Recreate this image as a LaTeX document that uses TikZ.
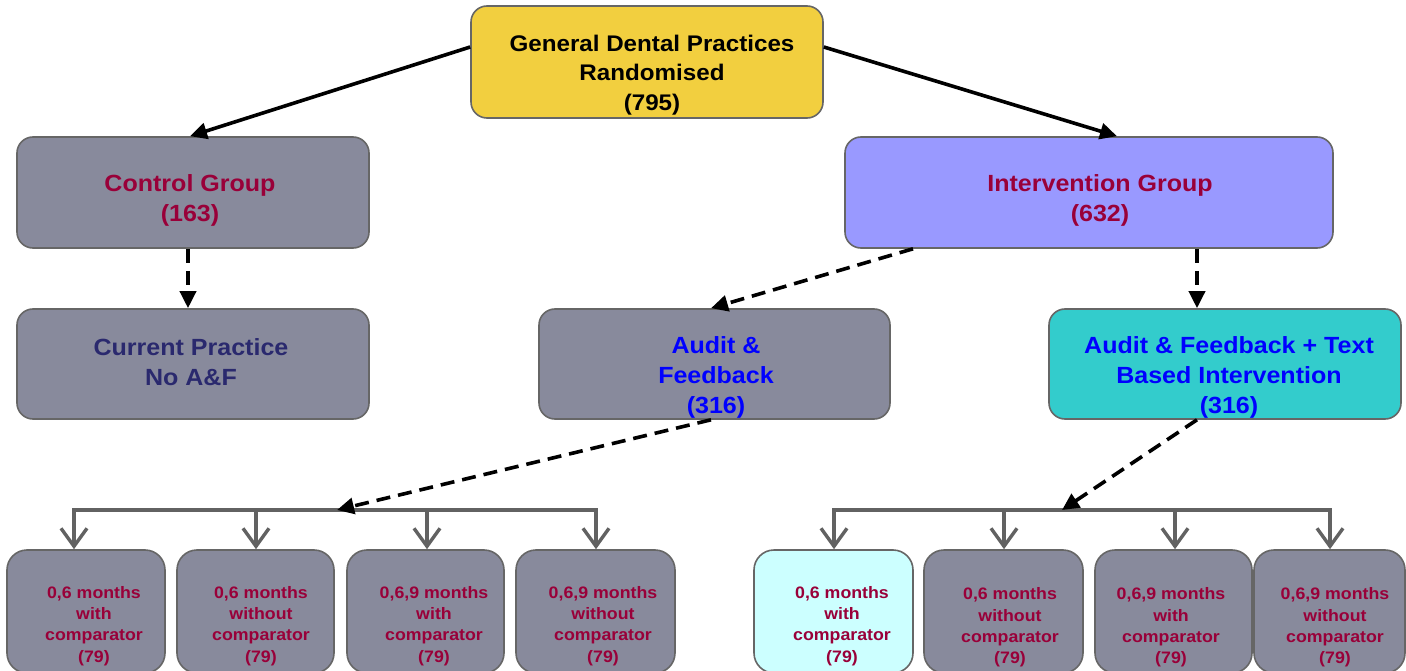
\documentclass[tikz,border=0pt]{standalone}
\usepackage{fontspec}
\setmainfont{Liberation Sans}
\newfontfamily\dfont[FakeStretch=1.07]{Liberation Sans}
\usetikzlibrary{arrows.meta}

\definecolor{boxline}{HTML}{666666}
\definecolor{gold}{HTML}{F2CF3F}
\definecolor{slate}{HTML}{888A9C}
\definecolor{lavender}{HTML}{9999FF}
\definecolor{teal}{HTML}{33CCCC}
\definecolor{palecyan}{HTML}{CCFFFF}
\definecolor{crimson}{HTML}{990039}
\definecolor{navy}{HTML}{2A296E}
\definecolor{pureblue}{HTML}{0000FF}
\definecolor{busgray}{HTML}{626262}

\tikzset{
  card/.style={draw=boxline, line width=1.6pt, rounded corners=16pt, inner sep=0pt},
  smallcard/.style={card, rounded corners=20pt, minimum height=123pt},
  bigtxt/.style={align=center, font=\dfont\bfseries\fontsize{23.4}{30}\selectfont},
  toptxt/.style={align=center, font=\dfont\bfseries\fontsize{22.6}{29.5}\selectfont},
  smalltxt/.style={align=center, text=crimson, font=\dfont\bfseries\fontsize{16.6}{21.3}\selectfont},
  solidarr/.style={draw=black, line width=3.6pt, -{Triangle[length=17pt,width=16pt]}},
  dasharr/.style={solidarr, dash pattern=on 14pt off 8pt},
  busline/.style={draw=busgray, line width=3.4pt, line cap=rect},
  droparr/.style={draw=busgray, line width=3.4pt, -{Straight Barb[length=18pt,width=26pt]}}
}

\begin{document}
\begin{tikzpicture}[x=1pt, y=-1pt]
\useasboundingbox (0,0) rectangle (1406,671);
\clip (0,0) rectangle (1406,671);
\fill[white] (0,0) rectangle (1406,671);

% --- main boxes ---
\node[card, fill=gold, minimum width=352pt, minimum height=112pt] (top) at (647,62) {};
\node[card, fill=slate, minimum width=352pt, minimum height=111pt] (ctrl) at (193,192.5) {};
\node[card, fill=lavender, minimum width=488pt, minimum height=111pt] (intv) at (1089,192.5) {};
\node[card, fill=slate, minimum width=352pt, minimum height=110pt] (cur) at (193,364) {};
\node[card, fill=slate, minimum width=351pt, minimum height=110pt] (af) at (714.5,364) {};
\node[card, fill=teal, minimum width=352pt, minimum height=110pt] (aft) at (1225,364) {};

% --- box texts ---
\node[toptxt] (ttop) at (652,75) {General Dental Practices\\Randomised\\(795)};
\node[bigtxt, text=crimson] (tctrl) at (190,200.5) {Control Group\\(163)};
\node[bigtxt, text=crimson] (tintv) at (1100,200.5) {Intervention Group\\(632)};
\node[bigtxt, text=navy] (tcur) at (191,362.5) {Current Practice\\No A\&F};
\node[bigtxt, text=pureblue] (taf) at (716,377) {Audit \&\\Feedback\\(316)};
\node[bigtxt, text=pureblue] (taft) at (1229,377) {Audit \& Feedback + Text\\Based Intervention\\(316)};

% --- bottom boxes ---
\node[smallcard, fill=slate, minimum width=158pt] (b1) at (86,611.5) {};
\node[smallcard, fill=slate, minimum width=157pt] (b2) at (255.5,611.5) {};
\node[smallcard, fill=slate, minimum width=157pt] (b3) at (425.5,611.5) {};
\node[smallcard, fill=slate, minimum width=159pt] (b4) at (595.5,611.5) {};
\node[smallcard, fill=palecyan, minimum width=159pt] (b5) at (833.5,611.5) {};
\node[smallcard, fill=slate, minimum width=159pt] (b6) at (1003.5,611.5) {};
\node[smallcard, fill=slate, minimum width=157pt] (b7) at (1173.5,611.5) {};
\node[smallcard, fill=slate, minimum width=151pt] (b8) at (1329.5,611.5) {};

\node[smalltxt] (tb1) at (94,626) {0,6 months\\with\\comparator\\(79)};
\node[smalltxt] (tb2) at (261,626) {0,6 months\\without\\comparator\\(79)};
\node[smalltxt] (tb3) at (434,626) {0,6,9 months\\with\\comparator\\(79)};
\node[smalltxt] (tb4) at (603,626) {0,6,9 months\\without\\comparator\\(79)};
\node[smalltxt] (tb5) at (842,626) {0,6 months\\with\\comparator\\(79)};
\node[smalltxt] (tb6) at (1010,627.5) {0,6 months\\without\\comparator\\(79)};
\node[smalltxt] (tb7) at (1171,627.5) {0,6,9 months\\with\\comparator\\(79)};
\node[smalltxt] (tb8) at (1335,627.5) {0,6,9 months\\without\\comparator\\(79)};

% --- distribution bars ---
\coordinate (l1) at (74,510);
\coordinate (l2) at (256,510);
\coordinate (l3) at (427,510);
\coordinate (l4) at (596,510);
\coordinate (r1) at (834,510);
\coordinate (r2) at (1004,510);
\coordinate (r3) at (1175,510);
\coordinate (r4) at (1330,510);
\coordinate (lhit) at (337,510);
\coordinate (rhit) at (1062,510);

\draw[busline] (l1) -- (l4);
\draw[busline] (r1) -- (r4);
\foreach \c/\b in {l1/b1, l2/b2, l3/b3, l4/b4, r1/b5, r2/b6, r3/b7, r4/b8}
  \draw[droparr] (\c) -- (\c |- \b.north);

% --- connectors ---
\draw[solidarr] ([yshift=15pt]top.west) -- ([xshift=-3pt]ctrl.north);
\draw[solidarr] ([yshift=15pt]top.east) -- ([xshift=28pt]intv.north);
\draw[dasharr] ([xshift=-5pt]ctrl.south) -- ([xshift=-5pt]cur.north);
\draw[dasharr] ([xshift=-176pt]intv.south) -- ([xshift=-3.5pt]af.north);
\draw[dasharr] ([xshift=108pt]intv.south) -- ([xshift=-28pt]aft.north);
\draw[dasharr] ([xshift=-3.5pt]af.south) -- (lhit);
\draw[dasharr] ([xshift=-28pt]aft.south) -- (rhit);
\end{tikzpicture}
\end{document}
